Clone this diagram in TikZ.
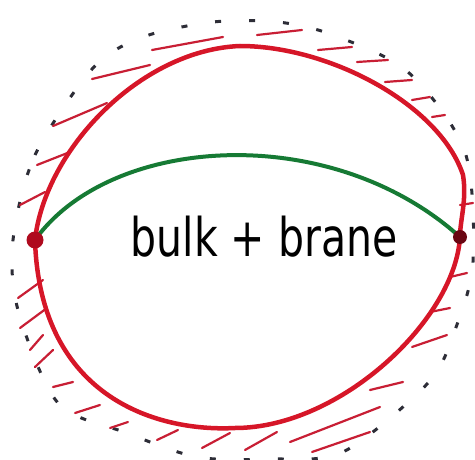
\documentclass[tikz,border=0pt]{standalone}
\usepackage{fontspec}
\setsansfont{DejaVu Sans}
\definecolor{wallred}{RGB}{214,22,40}
\definecolor{hatchred}{RGB}{200,30,52}
\definecolor{dotred}{RGB}{175,10,30}
\definecolor{branegreen}{RGB}{22,122,52}
\definecolor{dashgray}{RGB}{45,45,55}

\begin{document}
\begin{tikzpicture}[x=1pt,y=-1pt,
  wall/.style={draw=wallred,line width=4.5pt,line join=round},
  hatch/.style={draw=hatchred,line width=2.2pt,line cap=round},
  horizon/.style={draw=dashgray,line width=3pt,dash pattern=on 6pt off 28pt},
  brane/.style={draw=branegreen,line width=4pt}]
\useasboundingbox (0,0) rectangle (475,460);

% outer dashed boundary
\draw[horizon] plot[smooth cycle] coordinates {(13,240) (35,155) (93,68)
  (143,37) (213,22) (278,22) (333,35) (408,72) (465,152)
  (473,262) (455,330) (428,383) (343,452) (270,459)
  (197,457) (127,433) (58,403) (18,310)};

% hatching between the two boundaries
\foreach \xa/\ya/\xb/\yb in {20/205/45/192, 37/165/70/152, 53/126/107/103,
  92/79/150/65, 152/50/223/37, 257/35/302/30, 318/50/352/47, 357/62/388/60,
  385/82/412/80, 412/100/430/97, 432/117/445/115, 460/205/473/203,
  450/277/467/273, 430/312/450/308, 412/347/447/335, 370/390/403/382,
  290/442/380/407, 312/452/370/432, 245/450/277/432, 202/448/230/433,
  157/440/178/430, 110/428/128/422, 75/413/100/405, 53/387/73/382,
  35/367/53/350, 30/350/43/335, 20/328/47/308, 18/298/43/280}
  \draw[hatch] (\xa,\ya) -- (\xb,\yb);

\coordinate (L) at (35,240);
\coordinate (R) at (460,237);
\coordinate (T) at (240,46);
\coordinate (B) at (235,428);

% red boundary
\draw[wall] (L) .. controls (45,150) and (140,50) .. (T)
  .. controls (330,46) and (440,105) .. (463,175)
  .. controls (467,200) and (460,220) .. (R)
  .. controls (455,320) and (340,428) .. (B)
  .. controls (160,432) and (40,400) .. (L) -- cycle;

% brane
\draw[brane] (L) .. controls (110,135) and (330,120) .. (R);
\fill[dotred] (L) circle (8.5);
\fill[dotred!60!black] (R) circle (7);

\node[font=\sffamily\fontsize{41}{41}\selectfont,anchor=base,inner sep=0pt] (bb) at (264,257)
  {\scalebox{1}[1.3]{bulk + brane}};
\end{tikzpicture}
\end{document}
